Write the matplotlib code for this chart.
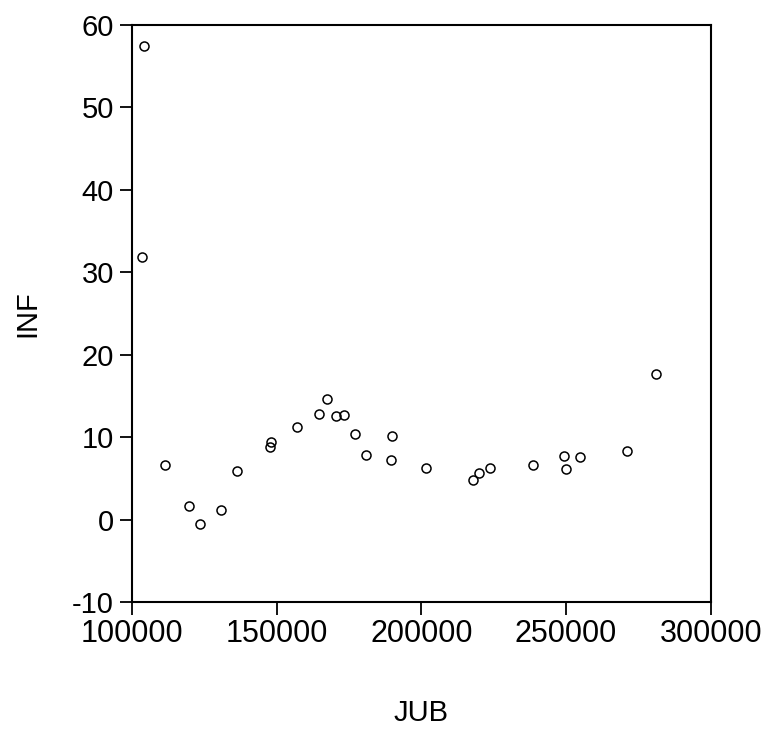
import matplotlib
matplotlib.use('Agg')
import matplotlib.pyplot as plt

# data (JUB vs INF)
jub = [103500, 104300, 111500, 119700, 123400, 130900, 136300, 147600,
       148200, 157000, 164600, 167400, 170400, 173300, 177100, 180900,
       189600, 189900, 201600, 217700, 219800, 223800, 238700, 249200,
       250000, 254900, 271200, 281200]
inf = [31.9, 57.5, 6.7, 1.7, -0.5, 1.2, 5.9, 8.8,
       9.4, 11.2, 12.8, 14.6, 12.6, 12.7, 10.4, 7.8,
       7.2, 10.2, 6.3, 4.8, 5.7, 6.3, 6.6, 7.7,
       6.2, 7.6, 8.4, 17.7]

x_ticks = [100000, 150000, 200000, 250000, 300000]
y_ticks = [-10, 0, 10, 20, 30, 40, 50, 60]

plt.rcParams['font.family'] = ['Liberation Sans', 'DejaVu Sans']

fig = plt.figure(figsize=(7.67, 7.37), dpi=100)
ax = fig.add_axes([0.1721, 0.1828, 0.7545, 0.7833])

ax.plot(jub, inf, linestyle='none', marker='o', ms=6.5,
        mfc='none', mec='black', mew=1.1)

ax.set_xlim(100000, 300000)
ax.set_ylim(-10, 60)
ax.set_xticks(x_ticks)
ax.set_xticklabels([str(v) for v in x_ticks])
ax.set_yticks(y_ticks)
ax.set_yticklabels([str(v) for v in y_ticks])

for s in ax.spines.values():
    s.set_linewidth(1.5)

ax.tick_params(axis='both', direction='out', length=9, width=1.3,
               labelsize=21, pad=3)
ax.tick_params(axis='x', labelsize=22)
ax.tick_params(axis='y', pad=4)

ax.set_xlabel('JUB', fontsize=21, labelpad=36)
ax.set_ylabel('INF', fontsize=21, labelpad=22)

plt.savefig('out.png', dpi=100)
